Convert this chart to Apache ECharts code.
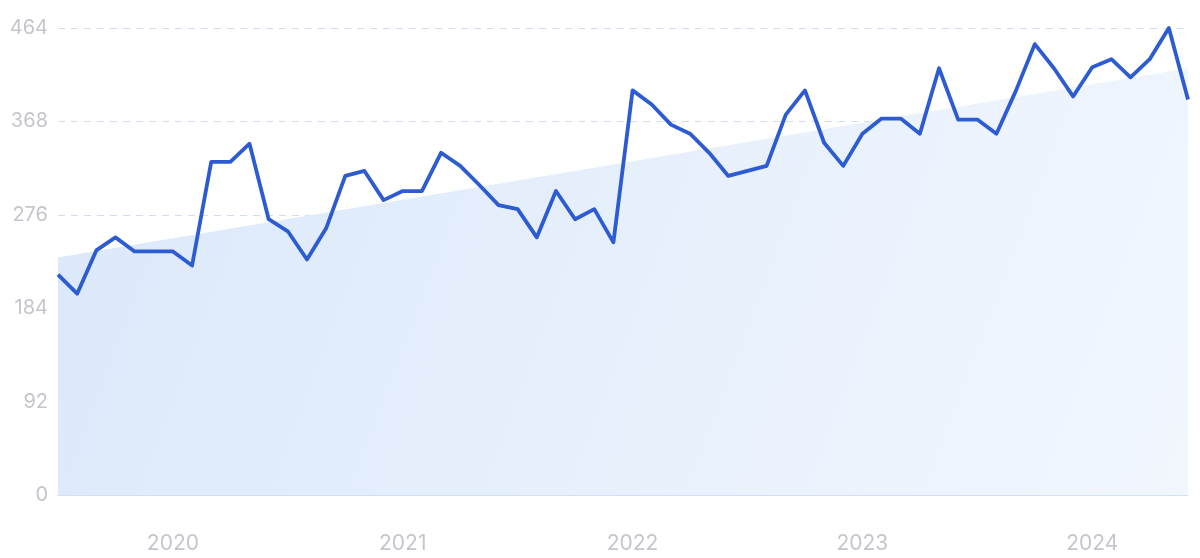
<!DOCTYPE html>
<html>
<head>
<meta charset="utf-8">
<script src="https://cdn.jsdelivr.net/npm/echarts@6/dist/echarts.min.js"></script>
<style>
html,body{margin:0;padding:0;background:#fff;}
#chart{width:1200px;height:558px;}
</style>
</head>
<body>
<div id="chart"></div>
<script>
const months = [
  "2019-07","2019-08","2019-09","2019-10","2019-11","2019-12",
  "2020-01","2020-02","2020-03","2020-04","2020-05","2020-06","2020-07","2020-08","2020-09","2020-10","2020-11","2020-12",
  "2021-01","2021-02","2021-03","2021-04","2021-05","2021-06","2021-07","2021-08","2021-09","2021-10","2021-11","2021-12",
  "2022-01","2022-02","2022-03","2022-04","2022-05","2022-06","2022-07","2022-08","2022-09","2022-10","2022-11","2022-12",
  "2023-01","2023-02","2023-03","2023-04","2023-05","2023-06","2023-07","2023-08","2023-09","2023-10","2023-11","2023-12",
  "2024-01","2024-02","2024-03","2024-04","2024-05","2024-06"
];
const values = [
  219,200,243,256,242,242,
  242,228,331,331,349,274,262,234,265,317,322,293,
  302,302,340,327,308,288,284,256,302,274,284,251,
  402,388,368,359,340,317,322,327,378,402,350,327,
  359,374,374,359,424,373,373,359,401,448,424,396,
  425,433,415,433,464,393
];
const trendStart = 236;
const trendEnd = 424;
const yTickLabels = ["0","92","184","276","368","464"];
const yMax = 464;

const chart = echarts.init(document.getElementById('chart'));
chart.setOption({
  animation: false,
  grid: { left: 58, right: 12, top: 28, bottom: 63 },
  xAxis: {
    type: 'category',
    data: months,
    boundaryGap: false,
    axisLine: { show: true, lineStyle: { color: '#d3e0f3', width: 1 } },
    axisTick: { show: false },
    splitLine: { show: false },
    axisLabel: {
      interval: function (i, v) { return v.slice(5) === '01'; },
      formatter: function (v) { return v.slice(0, 4); },
      color: '#c4c6cc',
      fontSize: 21,
      fontFamily: 'Inter',
      margin: 38
    }
  },
  yAxis: {
    type: 'value',
    min: 0,
    max: yMax,
    interval: yMax / 5,
    axisLine: { show: false },
    axisTick: { show: false },
    splitLine: { show: true, lineStyle: { color: '#d2ddee', type: [7, 6], width: 1 } },
    axisLabel: {
      formatter: function (v) { return yTickLabels[Math.round(v / (yMax / 5))]; },
      color: '#c4c6cc',
      fontSize: 20,
      fontFamily: 'Inter',
      margin: 10
    }
  },
  series: [
    {
      type: 'line',
      data: [[months[0], trendStart], [months[months.length - 1], trendEnd]],
      symbol: 'none',
      lineStyle: { width: 0 },
      areaStyle: {
        opacity: 1,
        color: new echarts.graphic.LinearGradient(0, 0, 1, 1, [
          { offset: 0, color: '#dbe8fa' },
          { offset: 1, color: '#f2f7fe' }
        ])
      },
      z: 1,
      silent: true
    },
    {
      type: 'line',
      data: values,
      symbol: 'none',
      lineStyle: { color: '#2d5bd1', width: 3.8, join: 'round' },
      z: 3
    }
  ]
});
</script>
</body>
</html>
